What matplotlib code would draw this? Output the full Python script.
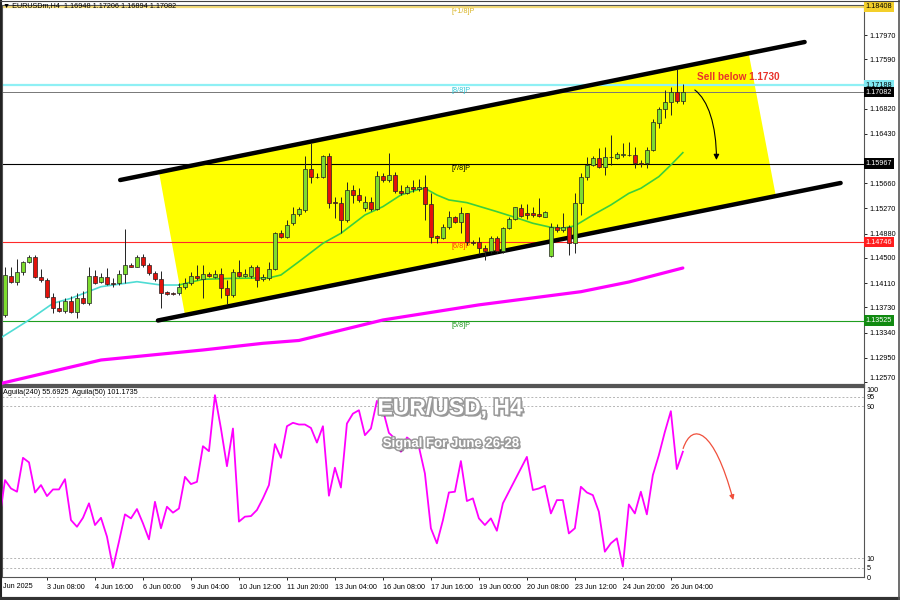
import matplotlib
matplotlib.use("Agg")
import matplotlib.pyplot as plt
import matplotlib.patheffects as pe
import matplotlib.transforms as mtransforms
from matplotlib.patches import Polygon, FancyArrowPatch
from matplotlib.path import Path

plt.rcParams['font.family'] = ['Liberation Sans', 'DejaVu Sans']

# ---- EURUSD H4 candles, index 0 = first visible bar (2 Jun 2025) ----
opens = [1.13612, 1.14225, 1.14131, 1.14287, 1.14443, 1.14520, 1.14199, 1.14157, 1.13898, 1.13716,
         1.13675, 1.13835, 1.13664, 1.13872, 1.13794, 1.14219, 1.14126, 1.14209, 1.14116, 1.14105,
         1.14251, 1.14391, 1.14365, 1.14520, 1.14391, 1.14261, 1.14168, 1.13965, 1.13960, 1.13950,
         1.14053, 1.14116, 1.14219, 1.14173, 1.14245, 1.14209, 1.14251, 1.14028, 1.13924, 1.14287,
         1.14219, 1.14219, 1.14365, 1.14168, 1.14183, 1.14323, 1.14884, 1.14822, 1.15040, 1.15185,
         1.15247, 1.15880, 1.15766, 1.15756, 1.16088, 1.15377, 1.15351, 1.15092, 1.15558, 1.15481,
         1.15273, 1.15377, 1.15257, 1.15776, 1.15714, 1.15792, 1.15548, 1.15517, 1.15610, 1.15569,
         1.15600, 1.15340, 1.14842, 1.14806, 1.14988, 1.15133, 1.15066, 1.15195, 1.14754, 1.14754,
         1.14650, 1.14614, 1.14806, 1.14614, 1.14962, 1.15102, 1.15273, 1.15195, 1.15195, 1.15185,
         1.15143, 1.14531, 1.14988, 1.14936, 1.14988, 1.14728, 1.15351, 1.15766, 1.15947, 1.16051,
         1.15921, 1.16066, 1.16051, 1.16103, 1.16103, 1.16103, 1.15973, 1.15973, 1.16181, 1.16596,
         1.16813, 1.16933, 1.17088, 1.16948]
highs = [1.14365, 1.14354, 1.14479, 1.14458, 1.14546, 1.14546, 1.14323, 1.14183, 1.13950, 1.13835,
         1.13872, 1.13908, 1.13950, 1.13991, 1.14354, 1.14313, 1.14261, 1.14339, 1.14183, 1.14313,
         1.14946, 1.14417, 1.14546, 1.14556, 1.14417, 1.14292, 1.14302, 1.13991, 1.13970, 1.14105,
         1.14183, 1.14287, 1.14391, 1.14391, 1.14287, 1.14313, 1.14339, 1.14157, 1.14323, 1.14469,
         1.14323, 1.14391, 1.14391, 1.14251, 1.14443, 1.14910, 1.14936, 1.15092, 1.15289, 1.15299,
         1.16088, 1.16285, 1.15818, 1.16103, 1.16129, 1.15455, 1.15455, 1.15688, 1.15636, 1.15584,
         1.15465, 1.15455, 1.15859, 1.15828, 1.16140, 1.15844, 1.15636, 1.15636, 1.15714, 1.15725,
         1.15792, 1.15507, 1.14858, 1.15029, 1.15237, 1.15154, 1.15289, 1.15206, 1.14780, 1.14822,
         1.14702, 1.14842, 1.14842, 1.14988, 1.15133, 1.15299, 1.15340, 1.15340, 1.15289, 1.15429,
         1.15237, 1.15050, 1.15029, 1.15195, 1.15014, 1.15506, 1.15817, 1.16077, 1.16087, 1.16206,
         1.16222, 1.16414, 1.16155, 1.16284, 1.16310, 1.16222, 1.16025, 1.16222, 1.16658, 1.16855,
         1.17114, 1.17156, 1.17436, 1.17206]
lows = [1.13586, 1.14105, 1.14079, 1.14235, 1.14417, 1.14183, 1.14131, 1.13872, 1.13638, 1.13664,
        1.13649, 1.13638, 1.13560, 1.13784, 1.13768, 1.14095, 1.14105, 1.14074, 1.14043, 1.14079,
        1.14116, 1.14354, 1.14354, 1.14365, 1.14230, 1.14147, 1.13716, 1.13918, 1.13924, 1.13924,
        1.14012, 1.14079, 1.14157, 1.13872, 1.14199, 1.14183, 1.13872, 1.13784, 1.13898, 1.14199,
        1.14199, 1.14183, 1.14053, 1.14147, 1.14157, 1.14313, 1.14806, 1.14806, 1.15014, 1.15154,
        1.15221, 1.15662, 1.15740, 1.15740, 1.15273, 1.15118, 1.14884, 1.15066, 1.15351, 1.15377,
        1.15237, 1.15237, 1.15247, 1.15688, 1.15688, 1.15517, 1.15481, 1.15496, 1.15532, 1.15548,
        1.15092, 1.14738, 1.14728, 1.14790, 1.14946, 1.15040, 1.14884, 1.14702, 1.14702, 1.14562,
        1.14469, 1.14583, 1.14583, 1.14583, 1.14946, 1.15092, 1.15133, 1.15102, 1.15133, 1.15133,
        1.15133, 1.14520, 1.14910, 1.14910, 1.14546, 1.14573, 1.15169, 1.15714, 1.15931, 1.15895,
        1.15791, 1.15947, 1.16036, 1.16077, 1.16087, 1.15895, 1.15921, 1.15895, 1.16170, 1.16518,
        1.16673, 1.16725, 1.16907, 1.16894]
closes = [1.14235, 1.14131, 1.14287, 1.14443, 1.14520, 1.14209, 1.14157, 1.13898, 1.13716, 1.13680,
          1.13835, 1.13664, 1.13872, 1.13794, 1.14219, 1.14116, 1.14209, 1.14095, 1.14095, 1.14251,
          1.14391, 1.14365, 1.14520, 1.14391, 1.14261, 1.14168, 1.13950, 1.13939, 1.13934, 1.14053,
          1.14116, 1.14219, 1.14183, 1.14245, 1.14219, 1.14251, 1.14028, 1.13924, 1.14287, 1.14219,
          1.14251, 1.14365, 1.14157, 1.14209, 1.14323, 1.14884, 1.14822, 1.15014, 1.15185, 1.15257,
          1.15880, 1.15756, 1.15756, 1.16088, 1.15361, 1.15351, 1.15092, 1.15558, 1.15481, 1.15403,
          1.15377, 1.15257, 1.15776, 1.15714, 1.15792, 1.15548, 1.15517, 1.15600, 1.15569, 1.15600,
          1.15340, 1.14832, 1.14806, 1.14988, 1.15133, 1.15066, 1.15195, 1.14754, 1.14728, 1.14650,
          1.14614, 1.14806, 1.14614, 1.14962, 1.15102, 1.15289, 1.15154, 1.15169, 1.15164, 1.15154,
          1.15221, 1.14988, 1.14936, 1.14988, 1.14728, 1.15351, 1.15766, 1.15947, 1.16051, 1.15921,
          1.16077, 1.16077, 1.16113, 1.16113, 1.16108, 1.15973, 1.15968, 1.16181, 1.16621, 1.16813,
          1.16933, 1.17088, 1.16948, 1.17082]

# moving averages
ma_fast_idx = [-1, 4, 8, 11, 16, 22, 26, 29, 33, 38, 44, 46, 49, 53, 56, 60, 63, 66, 69, 70,
               72, 74, 77, 82, 85, 88, 91, 93, 95, 98, 101, 104, 106, 109, 111, 113]
ma_fast = [1.13240, 1.13534, 1.13794, 1.13872, 1.14053, 1.14131, 1.14079, 1.14079, 1.14168, 1.14183,
           1.14190, 1.14235, 1.14443, 1.14728, 1.14884, 1.15169, 1.15299, 1.15481, 1.15569, 1.15584,
           1.15480, 1.15403, 1.15361, 1.15221, 1.15133, 1.15040, 1.14977, 1.14962, 1.15000, 1.15169,
           1.15325, 1.15506, 1.15584, 1.15766, 1.15947, 1.16139]
ma_fast_split = 8   # points before this position drawn cyan, rest green
ma_slow_idx = [-1, 3, 16, 33, 43, 49, 63, 79, 96, 104, 113]
ma_slow = [1.12540, 1.12628, 1.12912, 1.13068, 1.13172, 1.13216, 1.13535, 1.13770, 1.13975, 1.14126, 1.14344]

# Murrey-style levels
level_vals = [1.18408, 1.17188, 1.15967, 1.14746, 1.13525]
level_names = ['[+1/8]P', '[8/8]P', '[7/8]P', '[6/8]P', '[5/8]P']
level_line_cols = ['#f5dc78', '#8ff0f5', '#000000', '#ff2a2a', '#1f9e1f']
level_text_cols = ['#d9b526', '#33c9d9', '#000000', '#ff3a10', '#229922']
level_tag_bg = ['#f3cf2a', '#7fe9f2', '#000000', '#ff1e1e', '#118a11']
level_tag_fg = ['#000000', '#000000', '#ffffff', '#ffffff', '#ffffff']
last_price = 1.17082

# channel
chan_upper_x = [19.2, 133.3]
chan_upper_y = [1.15713, 1.17861]
chan_lower_x = [25.5, 139.3]
chan_lower_y = [1.13527, 1.15667]
chan_fill_x = [25.7, 124.0, 128.5, 30.0]
chan_fill_y = [1.15822, 1.17674, 1.15465, 1.13613]

# forecast arrows (bezier control points)
price_arrow_x = [115.0, 117.2, 118.6, 118.6]
price_arrow_y = [1.17114, 1.16959, 1.16569, 1.16025]
osc_arrow_x = [113.05, 114.6, 118.2, 121.4]
osc_arrow_y = [67.7, 82.0, 78.0, 40.6]

# right-axis ticks (those hidden behind the price tags are left out)
price_ticks = [1.12570, 1.12950, 1.13340, 1.13730, 1.14110, 1.14500, 1.14880, 1.15270,
               1.15660, 1.16430, 1.16820, 1.17590, 1.17970]

# oscillator "Aguila(240)", first value at index -1
osc_start = -1
osc = [29.3, 51.1, 46.7, 45.0, 62.8, 60.4, 44.6, 48.5, 42.7, 46.2, 46.2, 51.6, 30.1, 26.6, 31.3,
       38.9, 27.5, 31.3, 21.4, 5.1, 18.8, 33.1, 31.0, 35.9, 28.4, 20.0, 39.7, 25.8, 37.1, 34.0,
       36.2, 52.8, 49.0, 50.2, 68.9, 66.3, 95.7, 78.2, 58.4, 78.2, 29.3, 31.9, 32.2, 35.4, 41.5,
       48.5, 70.0, 62.8, 79.4, 81.2, 80.3, 80.3, 78.5, 70.8, 79.4, 42.9, 57.6, 47.2, 80.8, 86.0,
       87.8, 74.7, 78.2, 92.7, 88.0, 75.9, 72.9, 66.0, 73.5, 71.2, 68.6, 54.6, 25.8, 17.9, 30.0,
       44.6, 45.0, 61.1, 40.1, 41.5, 31.0, 27.5, 31.0, 24.5, 38.9, 45.0, 51.1, 57.2, 63.3, 45.9,
       46.7, 48.1, 33.6, 40.6, 40.6, 23.1, 25.8, 47.6, 44.6, 43.2, 34.5, 13.5, 17.9, 20.5, 5.7,
       38.3, 33.6, 45.0, 33.1, 53.7, 64.2, 76.4, 87.3, 56.9, 66.0]
osc_levels = [5, 10, 90, 95]
osc_ticks = [0, 5, 10, 90, 95, 100]

time_tick_idx = [7, 15, 23, 31, 39, 47, 55, 63, 71, 79, 87, 95, 103, 111]
time_tick_labels = ['3 Jun 08:00', '4 Jun 16:00', '6 Jun 00:00', '9 Jun 04:00', '10 Jun 12:00',
                    '11 Jun 20:00', '13 Jun 04:00', '16 Jun 08:00', '17 Jun 16:00', '19 Jun 00:00',
                    '20 Jun 08:00', '23 Jun 12:00', '24 Jun 20:00', '26 Jun 04:00']

# ------------------------------------------------------------------
W, H = 900, 600
fig = plt.figure(figsize=(9, 6), dpi=100, facecolor='white')


def px_axes(x0, y0, x1, y1):
    return fig.add_axes([x0 / W, 1 - y1 / H, (x1 - x0) / W, (y1 - y0) / H])


ax1 = px_axes(2, 5, 864, 385)
ax2 = px_axes(2, 387, 864, 577.4)
XLIM = (-0.5, 143.2)
SMALL = 5.2

# --- price panel ---
idx = list(range(len(opens)))
ax1.add_patch(Polygon(list(zip(chan_fill_x, chan_fill_y)), closed=True,
                      facecolor='#ffff00', edgecolor='none', zorder=1))

for v, lc in zip(level_vals, level_line_cols):
    lw = 1.6 if lc in ('#f5dc78', '#8ff0f5') else 0.8
    ax1.axhline(v, color=lc, lw=lw, zorder=2)
ax1.axhline(last_price, color='#777777', lw=0.7, zorder=2)

for v, name, tc in zip(level_vals, level_names, level_text_cols):
    ax1.text(74.5, v - 0.0002, name, color=tc, fontsize=SMALL, ha='left', va='top', zorder=3)

ax1.plot(ma_slow_idx, ma_slow, color='#ff00ff', lw=2.3, zorder=3, solid_capstyle='round')
ax1.plot(ma_fast_idx[:ma_fast_split], ma_fast[:ma_fast_split], color='#4fdcd4', lw=1.2, zorder=3)
ax1.plot(ma_fast_idx[ma_fast_split - 1:], ma_fast[ma_fast_split - 1:], color='#3ccf3c', lw=1.2, zorder=3)

ax1.plot(chan_upper_x, chan_upper_y, color='black', lw=3.2, solid_capstyle='round', zorder=3.5)
ax1.plot(chan_lower_x, chan_lower_y, color='black', lw=3.2, solid_capstyle='round', zorder=3.5)

up = [c >= o for o, c in zip(opens, closes)]
body_col = ['#7ddc2e' if u else '#e3120b' for u in up]
bottoms = [min(o, c) for o, c in zip(opens, closes)]
heights = [max(abs(c - o), 0.00002) for o, c in zip(opens, closes)]
ax1.vlines(idx, lows, highs, color='#222222', lw=0.7, zorder=4)
ax1.bar(idx, heights, bottom=bottoms, width=0.62, color=body_col,
        edgecolor='#222222', lw=0.5, zorder=5)

arr1 = FancyArrowPatch(path=Path(list(zip(price_arrow_x, price_arrow_y)),
                                 [Path.MOVETO, Path.CURVE4, Path.CURVE4, Path.CURVE4]),
                       arrowstyle='-|>', mutation_scale=8, lw=0.8, color='black', zorder=7)
ax1.add_patch(arr1)
ax1.text(115.3, 1.17316, 'Sell below 1.1730', color='#e8322a', fontsize=7.2,
         fontweight='bold', ha='left', va='center', zorder=7)

ax1.set_xlim(*XLIM)
ax1.set_ylim(1.12523, 1.18437)
ax1.yaxis.tick_right()
ax1.set_yticks(price_ticks)
ax1.set_yticklabels([f'{t:.5f}' for t in price_ticks])
ax1.tick_params(axis='y', length=2, width=0.6, pad=2, labelsize=SMALL)
ax1.tick_params(axis='x', length=0, labelbottom=False)
# lowest price label sits just above the panel separator
ax1.get_yticklabels()[0].set_verticalalignment('bottom')

tr = mtransforms.blended_transform_factory(ax1.transAxes, ax1.transData)
tags = list(zip(level_vals, level_tag_bg, level_tag_fg)) + [(last_price, '#000000', '#ffffff')]
for v, bg, fg in tags:
    ax1.text(1.002, v, f'{v:.5f}', transform=tr, color=fg, fontsize=SMALL, ha='left', va='center',
             bbox=dict(boxstyle='square,pad=0.25', fc=bg, ec='none'), zorder=10, clip_on=False)

# --- oscillator panel ---
osc_x = [osc_start + k for k in range(len(osc))]
for lv in osc_levels:
    ax2.axhline(lv, color='#b5b5b5', lw=0.7, ls=(0, (2, 2)), zorder=1)
ax2.plot(osc_x, osc, color='#ff00ff', lw=1.3, zorder=3)
arr2 = FancyArrowPatch(path=Path(list(zip(osc_arrow_x, osc_arrow_y)),
                                 [Path.MOVETO, Path.CURVE4, Path.CURVE4, Path.CURVE4]),
                       arrowstyle='-|>', mutation_scale=7, lw=0.9, color='#f0503c', zorder=4)
ax2.add_patch(arr2)

ax2.set_xlim(*XLIM)
ax2.set_ylim(0, 100)
ax2.yaxis.tick_right()
ax2.set_yticks(osc_ticks)
ax2.tick_params(axis='y', length=0, pad=2, labelsize=SMALL)
ax2.get_yticklabels()[-1].set_verticalalignment('top')
ax2.set_xticks(time_tick_idx)
ax2.set_xticklabels(time_tick_labels)
for lbl in ax2.get_xticklabels():
    lbl.set_horizontalalignment('left')
ax2.tick_params(axis='x', length=2.5, width=0.6, pad=2, labelsize=SMALL)

for ax in (ax1, ax2):
    for sp in ax.spines.values():
        sp.set_color('#555555')
        sp.set_linewidth(0.8)
ax1.spines['bottom'].set_linewidth(1.6)
ax2.spines['top'].set_linewidth(1.6)

# --- texts ---
fig.text(3 / W, 1 - 5.5 / H, '\u25bc EURUSDm,H4  1.16948 1.17206 1.16894 1.17082',
         fontsize=SMALL, ha='left', va='center', color='black')
fig.text(3 / W, 1 - 393 / H, 'Aguila(240) 55.6925  Aguila(50) 101.1735',
         fontsize=SMALL, ha='left', va='center', color='black')
fig.text(3 / W, 1 - 586 / H, 'Jun 2025', fontsize=SMALL, ha='left', va='center', color='black')

effects = [pe.withSimplePatchShadow(offset=(1.5, -1.5), shadow_rgbFace='#444444', alpha=0.55),
           pe.withStroke(linewidth=2.2, foreground='#9a9a9a')]
fig.text(450 / W, 1 - 408 / H, 'EUR/USD, H4', fontsize=16.5, fontweight='bold', color='white',
         ha='center', va='center', path_effects=effects, zorder=20)
fig.text(451 / W, 1 - 444 / H, 'Signal For June 26-28', fontsize=9.5, fontweight='bold', color='white',
         ha='center', va='center', path_effects=effects, zorder=20)

# window frame
fig.add_artist(plt.Line2D([0.5 / W, 0.5 / W], [0, 1], color='#222222', lw=1.5))
fig.add_artist(plt.Line2D([0, 1], [1.5 / H, 1.5 / H], color='#333333', lw=3))
fig.add_artist(plt.Line2D([899 / W, 899 / W], [0, 1], color='#555555', lw=1.2))
fig.add_artist(plt.Line2D([0, 1], [599.5 / H, 599.5 / H], color='#444444', lw=0.8))

fig.savefig('out.png', dpi=100, facecolor='white')
